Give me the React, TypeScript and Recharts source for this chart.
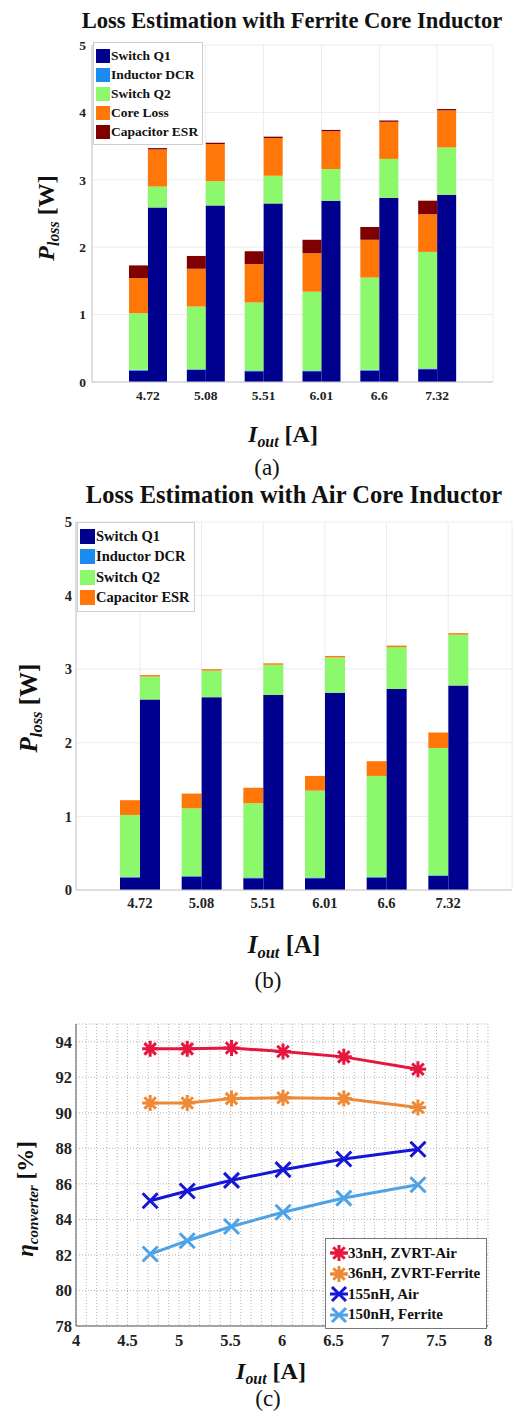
import React from 'react';
import {
  BarChart, Bar, XAxis, YAxis, CartesianGrid, Legend,
  LineChart, Line,
} from 'recharts';

// ---------- data ----------
const categories = ['4.72', '5.08', '5.51', '6.01', '6.6', '7.32'];

// (a) Ferrite core — left stack
const ferQ1L = [0.17, 0.18, 0.16, 0.16, 0.17, 0.19];
const ferDcrL = [0.01, 0.01, 0.01, 0.01, 0.01, 0.01];
const ferQ2L = [0.84, 0.93, 1.01, 1.17, 1.37, 1.73];
const ferCoreL = [0.52, 0.56, 0.57, 0.57, 0.56, 0.56];
const ferEsrL = [0.19, 0.19, 0.19, 0.2, 0.19, 0.2];
// (a) Ferrite core — right stack
const ferQ1R = [2.59, 2.62, 2.65, 2.69, 2.73, 2.78];
const ferQ2R = [0.31, 0.36, 0.41, 0.47, 0.58, 0.7];
const ferCoreR = [0.55, 0.55, 0.56, 0.56, 0.55, 0.55];
const ferEsrR = [0.02, 0.02, 0.02, 0.02, 0.02, 0.02];

// (b) Air core — left stack
const airQ1L = [0.17, 0.18, 0.16, 0.16, 0.17, 0.19];
const airDcrL = [0.01, 0.01, 0.01, 0.01, 0.01, 0.01];
const airQ2L = [0.84, 0.92, 1.01, 1.18, 1.37, 1.73];
const airEsrL = [0.2, 0.2, 0.21, 0.2, 0.2, 0.21];
// (b) Air core — right stack
const airQ1R = [2.59, 2.62, 2.65, 2.68, 2.73, 2.78];
const airQ2R = [0.31, 0.36, 0.41, 0.48, 0.57, 0.69];
const airEsrR = [0.02, 0.02, 0.02, 0.02, 0.02, 0.02];

const lossTicks = [0, 1, 2, 3, 4, 5];

// (c) efficiency
const iout = [4.72, 5.08, 5.51, 6.01, 6.6, 7.32];
const eff33Air = [93.6, 93.6, 93.65, 93.45, 93.15, 92.45];
const eff36Fer = [90.55, 90.55, 90.8, 90.85, 90.8, 90.3];
const eff155Air = [85.05, 85.6, 86.2, 86.8, 87.4, 87.95];
const eff150Fer = [82.05, 82.8, 83.6, 84.4, 85.2, 85.95];
const effYTicks = [78, 80, 82, 84, 86, 88, 90, 92, 94];
const effXLabels = ['4', '4.5', '5', '5.5', '6', '6.5', '7', '7.5', '8'];
const effXTicks = [
  4, 4.1, 4.2, 4.3, 4.4, 4.5, 4.6, 4.7, 4.8, 4.9,
  5, 5.1, 5.2, 5.3, 5.4, 5.5, 5.6, 5.7, 5.8, 5.9,
  6, 6.1, 6.2, 6.3, 6.4, 6.5, 6.6, 6.7, 6.8, 6.9,
  7, 7.1, 7.2, 7.3, 7.4, 7.5, 7.6, 7.7, 7.8, 7.9, 8,
];

// ---------- styles ----------
const FONT = '"Liberation Serif", "Times New Roman", serif';
const NAVY = '#00008f';
const DCR = '#1a8cf0';
const GREEN = '#8cf86c';
const ORANGE = '#ff7708';
const DARKRED = '#7e0000';

const C_RED = '#e5173f';
const C_ORANGE = '#ee8a35';
const C_BLUE = '#1616d6';
const C_LBLUE = '#4ea2e6';

const ferLegend = [
  { name: 'Switch Q1', color: NAVY },
  { name: 'Inductor DCR', color: DCR },
  { name: 'Switch Q2', color: GREEN },
  { name: 'Core Loss', color: ORANGE },
  { name: 'Capacitor ESR', color: DARKRED },
];
const airLegend = [
  { name: 'Switch Q1', color: NAVY },
  { name: 'Inductor DCR', color: DCR },
  { name: 'Switch Q2', color: GREEN },
  { name: 'Capacitor ESR', color: ORANGE },
];

const ferriteRows = categories.map((c, i) => ({
  cat: c,
  q1L: ferQ1L[i], dcrL: ferDcrL[i], q2L: ferQ2L[i], coreL: ferCoreL[i], esrL: ferEsrL[i],
  q1R: ferQ1R[i], q2R: ferQ2R[i], coreR: ferCoreR[i], esrR: ferEsrR[i],
}));
const airRows = categories.map((c, i) => ({
  cat: c,
  q1L: airQ1L[i], dcrL: airDcrL[i], q2L: airQ2L[i], esrL: airEsrL[i],
  q1R: airQ1R[i], q2R: airQ2R[i], esrR: airEsrR[i],
}));
const effRows = iout.map((x, i) => ({
  x, a: eff33Air[i], b: eff36Fer[i], c: eff155Air[i], d: eff150Fer[i],
}));

const effLegend = [
  { name: '33nH, ZVRT-Air', color: C_RED, shape: 'star' },
  { name: '36nH, ZVRT-Ferrite', color: C_ORANGE, shape: 'star' },
  { name: '155nH, Air', color: C_BLUE, shape: 'x' },
  { name: '150nH, Ferrite', color: C_LBLUE, shape: 'x' },
];

// ---------- helpers ----------
function Txt({ x, y, size, bold = true, rotate = false, children, italic = false }: any) {
  return (
    <div
      style={{
        position: 'absolute', left: x, top: y, whiteSpace: 'nowrap',
        transform: `translate(-50%, -50%)${rotate ? ' rotate(-90deg)' : ''}`,
        fontFamily: FONT, fontSize: size, fontWeight: bold ? 700 : 400,
        fontStyle: italic ? 'italic' : 'normal', color: '#111', lineHeight: 1,
      }}
    >
      {children}
    </div>
  );
}

function Sub({ children }: any) {
  return (
    <span style={{ fontSize: '0.66em', fontStyle: 'italic', fontWeight: 700, position: 'relative', top: '0.3em' }}>
      {children}
    </span>
  );
}

function starPath(cx: number, cy: number, r: number) {
  const d = r * 0.72;
  return `M${cx - r},${cy}L${cx + r},${cy}M${cx},${cy - r}L${cx},${cy + r}` +
    `M${cx - d},${cy - d}L${cx + d},${cy + d}M${cx - d},${cy + d}L${cx + d},${cy - d}`;
}
function xPath(cx: number, cy: number, r: number) {
  return `M${cx - r},${cy - r}L${cx + r},${cy + r}M${cx - r},${cy + r}L${cx + r},${cy - r}`;
}

const makeDot = (color: string, shape: string) => (props: any) => {
  const { cx, cy, index } = props;
  if (cx == null || cy == null) return <g key={`d${index}`} />;
  const d = shape === 'star' ? starPath(cx, cy, 8) : xPath(cx, cy, 7.5);
  return <path key={`d${index}`} d={d} stroke={color} strokeWidth={3} fill="none" strokeLinecap="butt" />;
};

function BarLegend({ items, fontSize, rowH, sw }: any) {
  return (
    <div
      style={{
        background: '#fff', border: '1px solid #cfcfcf', padding: '3px 4px 3px 2px',
        fontFamily: FONT, fontWeight: 700, fontSize, color: '#111',
      }}
    >
      {items.map((it: any) => (
        <div key={it.name} style={{ display: 'flex', alignItems: 'center', height: rowH }}>
          <span style={{ display: 'inline-block', width: sw, height: sw, background: it.color, marginRight: 1 }} />
          <span>{it.name}</span>
        </div>
      ))}
    </div>
  );
}

function EffLegend() {
  return (
    <div
      style={{
        background: '#fff', border: '1px solid #777', padding: '4px 4px 3px 4px',
        fontFamily: FONT, fontWeight: 700, fontSize: 15, color: '#111', width: 152,
      }}
    >
      {effLegend.map((it) => (
        <div key={it.name} style={{ display: 'flex', alignItems: 'center', height: 20.5 }}>
          <svg width={18} height={18} style={{ marginRight: 0 }}>
            <line x1={0} y1={9} x2={18} y2={9} stroke={it.color} strokeWidth={3} />
            <path d={it.shape === 'star' ? starPath(9, 9, 8) : xPath(9, 9, 7)} stroke={it.color} strokeWidth={3} fill="none" />
          </svg>
          <span>{it.name}</span>
        </div>
      ))}
    </div>
  );
}

const tickStyleA = { fontFamily: FONT, fontWeight: 700, fontSize: 13.5, fill: '#222' };
const tickStyleB = { fontFamily: FONT, fontWeight: 700, fontSize: 14.5, fill: '#222' };
const tickStyleC = { fontFamily: FONT, fontWeight: 700, fontSize: 16.5, fill: '#222' };

const effXFormatter = (v: number) => {
  const s = String(Math.round(v * 10) / 10);
  return effXLabels.includes(s) ? s : '';
};

export default function App() {
  return (
    <div style={{ position: 'relative', width: 514, height: 1421, background: '#fff', overflow: 'hidden' }}>
      <style>{`body{margin:0;background:#fff}`}</style>

      {/* ---------------- (a) ---------------- */}
      <div style={{ position: 'absolute', left: 0, top: 0 }}>
        <BarChart
          width={514} height={420} data={ferriteRows}
          margin={{ top: 45, right: 21, bottom: 0, left: 0 }}
          barSize={19} barGap={0}
        >
          <CartesianGrid stroke="#ececec" />
          <XAxis
            dataKey="cat" type="category" height={38} padding={{ left: 27, right: 27 }}
            tick={tickStyleA} tickLine={false} axisLine={{ stroke: '#c8c8c8' }} interval={0}
          />
          <YAxis
            type="number" domain={[0, 5]} ticks={lossTicks} width={92}
            tick={tickStyleA} tickLine={false} tickSize={4} tickMargin={2}
            axisLine={{ stroke: '#c8c8c8' }}
          />
          <Bar dataKey="q1L" stackId="L" fill={NAVY} isAnimationActive={false} />
          <Bar dataKey="dcrL" stackId="L" fill={DCR} isAnimationActive={false} />
          <Bar dataKey="q2L" stackId="L" fill={GREEN} isAnimationActive={false} />
          <Bar dataKey="coreL" stackId="L" fill={ORANGE} isAnimationActive={false} />
          <Bar dataKey="esrL" stackId="L" fill={DARKRED} isAnimationActive={false} />
          <Bar dataKey="q1R" stackId="R" fill={NAVY} isAnimationActive={false} />
          <Bar dataKey="q2R" stackId="R" fill={GREEN} isAnimationActive={false} />
          <Bar dataKey="coreR" stackId="R" fill={ORANGE} isAnimationActive={false} />
          <Bar dataKey="esrR" stackId="R" fill={DARKRED} isAnimationActive={false} />
          <Legend
            layout="vertical" align="center" verticalAlign="middle"
            wrapperStyle={{ left: 93, top: 42, width: 'auto' }}
            content={() => <BarLegend items={ferLegend} fontSize={13.5} rowH={19} sw={14} />}
          />
        </BarChart>
      </div>
      <Txt x={292} y={21} size={22.6}>Loss Estimation with Ferrite Core Inductor</Txt>
      <Txt x={46} y={218} size={24} rotate>
        <span style={{ fontStyle: 'italic' }}>P</span><Sub>loss</Sub> [W]
      </Txt>
      <Txt x={283} y={434} size={24}>
        <span style={{ fontStyle: 'italic' }}>I</span><Sub>out</Sub> [A]
      </Txt>
      <Txt x={267} y={467} size={23} bold={false}>(a)</Txt>

      {/* ---------------- (b) ---------------- */}
      <div style={{ position: 'absolute', left: 0, top: 500 }}>
        <BarChart
          width={514} height={430} data={airRows}
          margin={{ top: 22, right: 2, bottom: 0, left: 0 }}
          barSize={20} barGap={0}
        >
          <CartesianGrid stroke="#ececec" />
          <XAxis
            dataKey="cat" type="category" height={40} padding={{ left: 33, right: 33 }}
            tick={tickStyleB} tickLine={false} axisLine={{ stroke: '#c8c8c8' }} interval={0}
          />
          <YAxis
            type="number" domain={[0, 5]} ticks={lossTicks} width={76}
            tick={tickStyleB} tickLine={false} tickSize={2} tickMargin={2}
            axisLine={{ stroke: '#c8c8c8' }}
          />
          <Bar dataKey="q1L" stackId="L" fill={NAVY} isAnimationActive={false} />
          <Bar dataKey="dcrL" stackId="L" fill={DCR} isAnimationActive={false} />
          <Bar dataKey="q2L" stackId="L" fill={GREEN} isAnimationActive={false} />
          <Bar dataKey="esrL" stackId="L" fill={ORANGE} isAnimationActive={false} />
          <Bar dataKey="q1R" stackId="R" fill={NAVY} isAnimationActive={false} />
          <Bar dataKey="q2R" stackId="R" fill={GREEN} isAnimationActive={false} />
          <Bar dataKey="esrR" stackId="R" fill={ORANGE} isAnimationActive={false} />
          <Legend
            layout="vertical" align="center" verticalAlign="middle"
            wrapperStyle={{ left: 77, top: 22, width: 'auto' }}
            content={() => <BarLegend items={airLegend} fontSize={14.5} rowH={20.5} sw={15} />}
          />
        </BarChart>
      </div>
      <Txt x={294} y={495} size={24.5}>Loss Estimation with Air Core Inductor</Txt>
      <Txt x={28} y={708} size={25} rotate>
        <span style={{ fontStyle: 'italic' }}>P</span><Sub>loss</Sub> [W]
      </Txt>
      <Txt x={284} y={944} size={25}>
        <span style={{ fontStyle: 'italic' }}>I</span><Sub>out</Sub> [A]
      </Txt>
      <Txt x={268} y={980} size={23} bold={false}>(b)</Txt>

      {/* ---------------- (c) ---------------- */}
      <div style={{ position: 'absolute', left: 0, top: 1000 }}>
        <LineChart
          width={514} height={360} data={effRows}
          margin={{ top: 24, right: 26, bottom: 4, left: 0 }}
        >
          <CartesianGrid stroke="#b5b5b5" strokeDasharray="1 2" />
          <XAxis
            dataKey="x" type="number" domain={[4, 8]} ticks={effXTicks} height={30}
            tick={tickStyleC} tickLine={false} axisLine={{ stroke: '#555' }}
            tickFormatter={effXFormatter} interval={0}
          />
          <XAxis xAxisId="top" orientation="top" dataKey="x" type="number" domain={[4, 8]}
            height={0} tick={false} tickLine={false} axisLine={{ stroke: '#555' }} />
          <YAxis
            type="number" domain={[78, 95]} ticks={effYTicks} width={76}
            tick={tickStyleC} tickLine={false} tickSize={2} tickMargin={2}
            axisLine={{ stroke: '#555' }}
          />
          <YAxis yAxisId="right" orientation="right" type="number" domain={[78, 95]}
            width={0} tick={false} tickLine={false} axisLine={{ stroke: '#555' }} />
          <Line dataKey="a" stroke={C_RED} strokeWidth={3} dot={makeDot(C_RED, 'star')} isAnimationActive={false} />
          <Line dataKey="b" stroke={C_ORANGE} strokeWidth={3} dot={makeDot(C_ORANGE, 'star')} isAnimationActive={false} />
          <Line dataKey="c" stroke={C_BLUE} strokeWidth={3} dot={makeDot(C_BLUE, 'x')} isAnimationActive={false} />
          <Line dataKey="d" stroke={C_LBLUE} strokeWidth={3} dot={makeDot(C_LBLUE, 'x')} isAnimationActive={false} />
          <Legend
            layout="vertical" align="center" verticalAlign="middle"
            wrapperStyle={{ left: 325, top: 238, width: 'auto' }}
            content={() => <EffLegend />}
          />
        </LineChart>
      </div>
      <Txt x={25} y={1199} size={23} rotate>
        <span style={{ fontStyle: 'italic' }}>η</span><Sub>converter</Sub> [%]
      </Txt>
      <Txt x={271} y={1371} size={24}>
        <span style={{ fontStyle: 'italic' }}>I</span><Sub>out</Sub> [A]
      </Txt>
      <Txt x={268} y={1398} size={23} bold={false}>(c)</Txt>
    </div>
  );
}
